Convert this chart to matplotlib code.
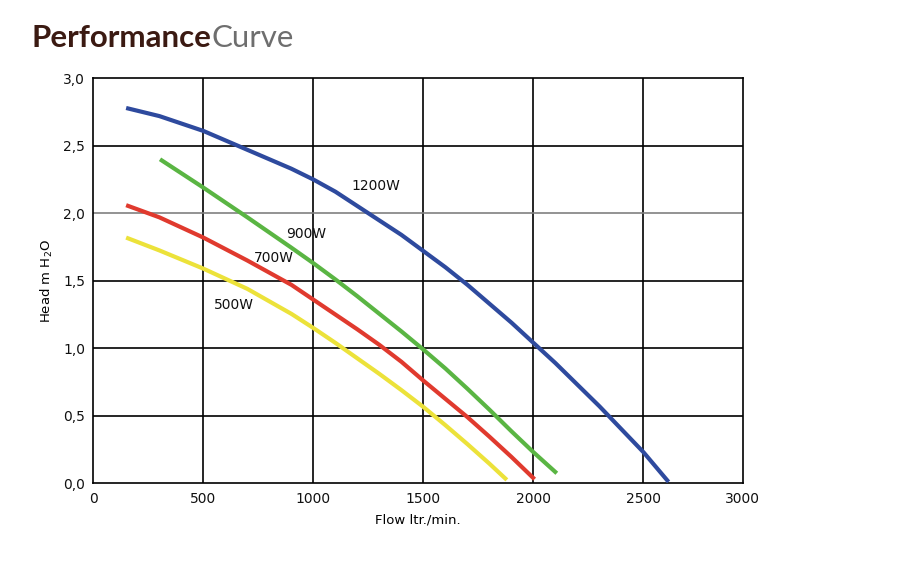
import matplotlib
matplotlib.use("Agg")
import matplotlib.pyplot as plt

# curve data (flow ltr/min, head m H2O)
flow_1200 = [149, 300, 500, 700, 900, 1000, 1100, 1250, 1400, 1500, 1600, 1700, 1800, 1900,
             2000, 2100, 2200, 2300, 2400, 2500, 2614]
head_1200 = [2.78, 2.72, 2.61, 2.47, 2.33, 2.25, 2.16, 2.00, 1.84, 1.72, 1.60, 1.47, 1.33, 1.19,
             1.04, 0.89, 0.73, 0.57, 0.40, 0.23, 0.01]

flow_900 = [303, 500, 700, 900, 1000, 1100, 1200, 1300, 1400, 1500, 1600, 1700, 1800, 1900, 2000, 2106]
head_900 = [2.40, 2.19, 1.97, 1.745, 1.63, 1.51, 1.385, 1.255, 1.125, 0.99, 0.85, 0.70, 0.545, 0.385, 0.23, 0.074]

flow_700 = [149, 300, 500, 700, 900, 1000, 1100, 1200, 1300, 1400, 1500, 1600, 1700, 1800, 1900, 2005]
head_700 = [2.06, 1.97, 1.82, 1.65, 1.47, 1.36, 1.25, 1.14, 1.025, 0.90, 0.76, 0.625, 0.49, 0.345, 0.195, 0.03]

flow_500 = [149, 300, 500, 700, 900, 1000, 1100, 1200, 1300, 1400, 1500, 1600, 1700, 1800, 1879]
head_500 = [1.82, 1.725, 1.59, 1.44, 1.255, 1.15, 1.04, 0.925, 0.81, 0.69, 0.565, 0.43, 0.29, 0.145, 0.025]

labels = ["1200W", "900W", "700W", "500W"]
label_pos = [(1285, 2.20), (967, 1.85), (821, 1.67), (641, 1.32)]
colors = ["#2e4a9e", "#5ab543", "#e03a2e", "#ece23a"]

x_ticks = [0, 500, 1000, 1500, 2000, 2500]
y_ticks = [0.0, 0.5, 1.0, 1.5, 2.0, 2.5, 3.0]

fig = plt.figure(figsize=(9.01, 5.86), dpi=100)
ax = fig.add_axes([0.1036, 0.1753, 0.7205, 0.6911])

series = [(flow_1200, head_1200), (flow_900, head_900), (flow_700, head_700), (flow_500, head_500)]
for (fx, hy), c in zip(series, colors):
    ax.plot(fx, hy, color=c, lw=3, solid_capstyle="butt", solid_joinstyle="round", zorder=3)

for lab, (lx, ly) in zip(labels, label_pos):
    ax.text(lx, ly, lab, ha="center", va="center", fontsize=10, color="#111111", zorder=4)

# grid
for xv in x_ticks[1:]:
    ax.axvline(xv, color="black", lw=1.2, zorder=1)
for yv in y_ticks[1:-1]:
    ax.axhline(yv, color="#808080" if yv == 2.0 else "black", lw=1.2, zorder=1)

ax.set_xlim(0, 2950)
ax.set_ylim(0, 3.0)
ax.set_xticks(x_ticks + [2950])
ax.set_xticklabels([str(v) for v in x_ticks] + ["3000"])
ax.set_yticks(y_ticks)
ax.set_yticklabels([f"{v:.1f}".replace(".", ",") for v in y_ticks])
ax.tick_params(length=0, labelsize=10, pad=6, colors="#111111")
for s in ax.spines.values():
    s.set_color("black")
    s.set_linewidth(1.2)

ax.set_xlabel("Flow ltr./min.", fontsize=9.5, labelpad=6)
ax.set_ylabel("Head m H$_2$O", fontsize=9.5, labelpad=6)

# title in two pieces
t1 = fig.text(32 / 901, 1 - 47 / 586, "Performance", fontsize=22.5, fontweight="bold",
              family="Lato", color="#3b1a12", va="baseline")
fig.canvas.draw()
bb = t1.get_window_extent()
fig.text(bb.x1 / fig.bbox.width, 1 - 47 / 586, "Curve", fontsize=22.5,
         family="Lato", color="#6e6e6e", va="baseline")

fig.savefig("out.png", dpi=100)
